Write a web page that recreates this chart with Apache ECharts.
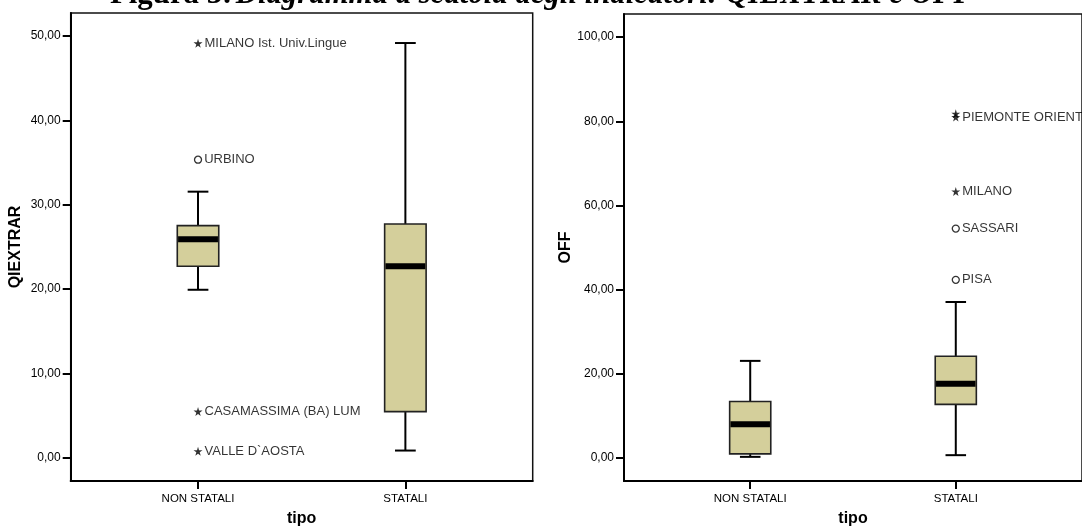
<!DOCTYPE html>
<html>
<head>
<meta charset="utf-8">
<script src="https://cdn.jsdelivr.net/npm/echarts@6/dist/echarts.min.js"></script>
<style>
html,body{margin:0;padding:0;background:#fff;}
#chart{width:1082px;height:532px;}
</style>
</head>
<body>
<div id="chart"></div>
<script>
// ---- data ----
const categories = ['NON STATALI', 'STATALI'];
const xAxisTitle = 'tipo';

// QIEXTRAR boxes: [low whisker, Q1, median, Q3, high whisker]
const qiextrarNonStatali = [19.93, 22.72, 25.92, 27.53, 31.56];
const qiextrarStatali    = [0.87, 5.49, 22.72, 27.72, 49.18];
const qiextrarStarNames  = ['MILANO Ist. Univ.Lingue', 'CASAMASSIMA (BA) LUM', "VALLE D`AOSTA"];
const qiextrarStarValues = [49.14, 5.49, 0.79];
const qiextrarStarCats   = [1, 1, 1];
const qiextrarCircleNames  = ['URBINO'];
const qiextrarCircleValues = [35.35];
const qiextrarCircleCats   = [1];
const qiextrarTicks = [0, 10, 20, 30, 40, 50];

// OFF boxes
const offNonStatali = [0.24, 0.94, 8.0, 13.38, 23.05];
const offStatali    = [0.64, 12.72, 17.62, 24.16, 37.04];
const offStarNames  = ['PIEMONTE ORIENT', '', 'MILANO'];
const offStarValues = [81.0, 81.8, 63.32];
const offStarCats   = [2, 2, 2];
const offCircleNames  = ['SASSARI', 'PISA'];
const offCircleValues = [54.49, 42.32];
const offCircleCats   = [2, 2];
const offTicks = [0, 20, 40, 60, 80, 100];

// ---- build ----
const FONT = '"Liberation Sans", Arial, sans-serif';
const SERIF = '"Liberation Serif", "Times New Roman", serif';
const STAR = 'path://M50,0 L61,35 L98,35 L68,57 L79,91 L50,70 L21,91 L32,57 L2,35 L39,35 Z';
const BOX_FILL = '#d4cf9b';

function fmt(v){ return v.toFixed(2).replace('.', ','); }

function boxData(arrs){
  return arrs.map((a, i) => [i + 1].concat(a));
}
function pointData(cats, vals, names){
  return vals.map((v, i) => ({ value: [cats[i], v], name: names[i] }));
}

function renderBox(params, api){
  const x = api.value(0);
  const lo = api.coord([x, api.value(1)]);
  const q1 = api.coord([x, api.value(2)]);
  const md = api.coord([x, api.value(3)]);
  const q3 = api.coord([x, api.value(4)]);
  const hi = api.coord([x, api.value(5)]);
  const bw = api.size([0.2, 0])[0];
  const cw = api.size([0.1, 0])[0];
  const cx = lo[0];
  const lineStyle = { stroke: '#000', lineWidth: 2, fill: null };
  return {
    type: 'group',
    children: [
      { type: 'line', shape: { x1: cx, y1: lo[1], x2: cx, y2: q1[1] }, style: lineStyle },
      { type: 'line', shape: { x1: cx, y1: q3[1], x2: cx, y2: hi[1] }, style: lineStyle },
      { type: 'line', shape: { x1: cx - cw / 2, y1: lo[1], x2: cx + cw / 2, y2: lo[1] }, style: lineStyle },
      { type: 'line', shape: { x1: cx - cw / 2, y1: hi[1], x2: cx + cw / 2, y2: hi[1] }, style: lineStyle },
      { type: 'rect', shape: { x: cx - bw / 2, y: q3[1], width: bw, height: q1[1] - q3[1] },
        style: { fill: BOX_FILL, stroke: '#222', lineWidth: 1.6 } },
      { type: 'rect', shape: { x: cx - bw / 2 + 0.8, y: md[1] - 3, width: bw - 1.6, height: 6 },
        style: { fill: '#000' } }
    ]
  };
}

function xAxisDef(gridIndex){
  return {
    type: 'value', gridIndex: gridIndex, min: 0.386, max: 2.614,
    name: xAxisTitle, nameLocation: 'middle', nameGap: 30,
    nameTextStyle: { fontFamily: FONT, fontSize: 16, fontWeight: 'bold', color: '#000' },
    axisLine: { show: true, onZero: false, lineStyle: { color: '#000', width: 2 } },
    axisTick: { show: true, length: 8, customValues: [1, 2], lineStyle: { color: '#000', width: 2 } },
    axisLabel: { customValues: [1, 2], margin: 12, fontFamily: FONT, fontSize: 11.5, color: '#000',
      formatter: v => categories[Math.round(v) - 1] || '' },
    splitLine: { show: false }
  };
}
function yAxisDef(gridIndex, name, min, max, ticks, gap){
  return {
    type: 'value', gridIndex: gridIndex, min: min, max: max,
    name: name, nameLocation: 'middle', nameRotate: 90, nameGap: gap,
    nameTextStyle: { fontFamily: FONT, fontSize: 16, fontWeight: 'bold', color: '#000' },
    axisLine: { show: true, onZero: false, lineStyle: { color: '#000', width: 2 } },
    axisTick: { show: true, length: 8, customValues: ticks, lineStyle: { color: '#000', width: 2 } },
    axisLabel: { customValues: ticks, margin: 10, fontFamily: FONT, fontSize: 12, color: '#000', formatter: fmt },
    splitLine: { show: false }
  };
}
function pointSeries(idx, symbol, size, data, filled){
  return {
    type: 'scatter', xAxisIndex: idx, yAxisIndex: idx,
    symbol: symbol, symbolSize: size, data: data, z: 5,
    itemStyle: filled ? { color: '#000' } : { color: '#fff', borderColor: '#000', borderWidth: 1.3 },
    label: { show: true, position: 'right', distance: 2, formatter: p => p.name,
      fontFamily: FONT, fontSize: 13, color: '#000' },
    silent: true
  };
}

const chart = echarts.init(document.getElementById('chart'), null, { renderer: 'canvas' });
chart.setOption({
  backgroundColor: '#fff',
  animation: false,
  graphic: [{
    type: 'text', x: 110, y: 10, silent: true,
    style: {
      text: '{b|Figura 3:} {i|Diagramma a scatola degli indicatori: QIEXTRAR e OFF}',
      verticalAlign: 'bottom', align: 'left',
      rich: {
        b: { fontFamily: SERIF, fontSize: 30.8, fontWeight: 'bold', fill: '#000', lineHeight: 30 },
        i: { fontFamily: SERIF, fontSize: 30.8, fontWeight: 'bold', fontStyle: 'italic', fill: '#000', lineHeight: 30 }
      }
    }
  }],
  grid: [
    { left: 70.7, top: 13, width: 462, bottom: 47, show: true, borderColor: '#111', borderWidth: 1.5, backgroundColor: 'transparent' },
    { left: 624, top: 14, right: -2, bottom: 47, show: true, borderColor: '#111', borderWidth: 1.5, backgroundColor: 'transparent' }
  ],
  xAxis: [xAxisDef(0), xAxisDef(1)],
  yAxis: [
    yAxisDef(0, 'QIEXTRAR', -2.74, 52.74, qiextrarTicks, 47),
    yAxisDef(1, 'OFF', -5.5, 105.5, offTicks, 50)
  ],
  series: [
    { type: 'custom', xAxisIndex: 0, yAxisIndex: 0, renderItem: renderBox,
      data: boxData([qiextrarNonStatali, qiextrarStatali]), silent: true },
    { type: 'custom', xAxisIndex: 1, yAxisIndex: 1, renderItem: renderBox,
      data: boxData([offNonStatali, offStatali]), silent: true },
    pointSeries(0, STAR, 9, pointData(qiextrarStarCats, qiextrarStarValues, qiextrarStarNames), true),
    pointSeries(0, 'circle', 7, pointData(qiextrarCircleCats, qiextrarCircleValues, qiextrarCircleNames), false),
    pointSeries(1, STAR, 9, pointData(offStarCats, offStarValues, offStarNames), true),
    pointSeries(1, 'circle', 7, pointData(offCircleCats, offCircleValues, offCircleNames), false)
  ]
});
</script>
</body>
</html>
